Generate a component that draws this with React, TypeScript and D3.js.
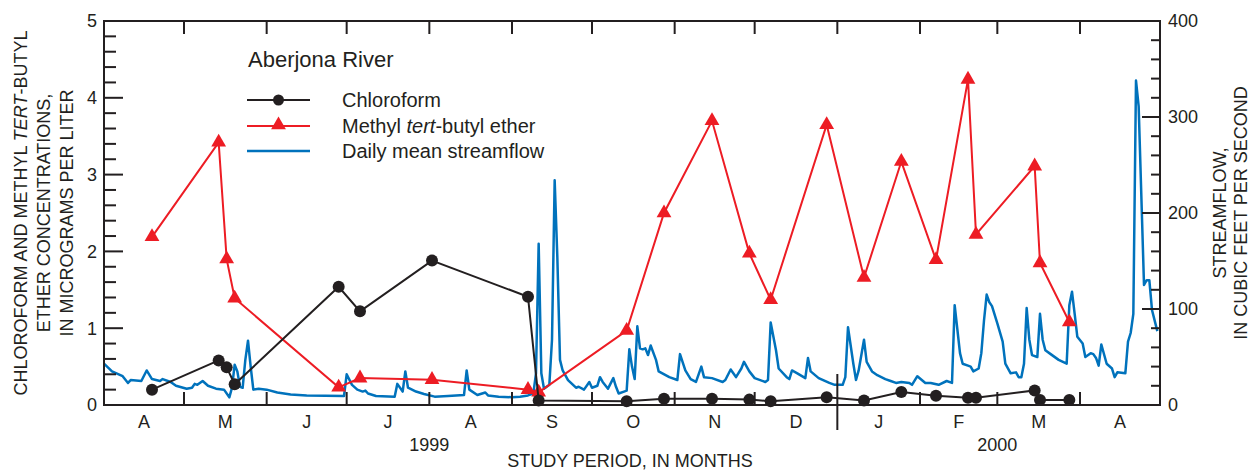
import React from "react";
import * as d3 from "d3";

// ---------- data ----------
const sampleDates = [
  "1999-04-19", "1999-05-14", "1999-05-17", "1999-05-20", "1999-06-28", "1999-07-06",
  "1999-08-02", "1999-09-07", "1999-09-11", "1999-10-14", "1999-10-28", "1999-11-15",
  "1999-11-29", "1999-12-07", "1999-12-28", "2000-01-11", "2000-01-25", "2000-02-07",
  "2000-02-19", "2000-02-22", "2000-03-15", "2000-03-17", "2000-03-28",
];
const chloroform = [
  0.2, 0.58, 0.49, 0.27, 1.54, 1.22, 1.88, 1.41, 0.06, 0.05, 0.08, 0.08,
  0.07, 0.05, 0.1, 0.06, 0.17, 0.12, 0.095, 0.095, 0.19, 0.065, 0.065,
];
const mtbe = [
  2.19, 3.42, 1.9, 1.39, 0.23, 0.35, 0.33, 0.2, 0.165, 0.97, 2.5, 3.7,
  1.975, 1.37, 3.65, 1.66, 3.17, 1.89, 4.24, 2.22, 3.11, 1.85, 1.08,
];

// daily mean streamflow: day of study period (0 = 1999-04-01) and cubic feet per second
const flowDay = [
  0, 3, 7, 9, 10, 14, 16, 18, 21, 22, 25, 27, 31, 33, 34, 35, 37, 39, 42, 45, 47, 48, 49, 50,
  51, 52, 53, 54, 55, 56, 58, 61, 65, 70, 76, 83, 90, 91, 93, 95, 97, 98, 99, 102, 109, 110,
  112, 113, 114, 117, 120, 124, 129, 135, 136, 137, 140, 143, 144, 148, 153, 156, 159, 161,
  162, 163, 164, 165, 167, 168, 169, 170, 171, 172, 174, 177, 178, 180, 182, 183, 185, 186,
  187, 189, 191, 192, 193, 195, 196, 197, 198, 199, 200, 201, 202, 203, 204, 205, 207, 208,
  212, 215, 216, 218, 220, 222, 224, 225, 228, 232, 233, 235, 236, 237, 239, 240, 242, 244,
  248, 249, 250, 252, 253, 256, 257, 258, 260, 263, 264, 265, 268, 272, 274, 277, 278, 279,
  281, 282, 283, 285, 286, 288, 290, 293, 295, 297, 299, 302, 303, 305, 308, 310, 313, 316,
  318, 319, 321, 322, 324, 325, 326, 328, 329, 330, 331, 332, 333, 335, 337, 338, 340, 342,
  343, 344, 345, 346, 347, 348, 350, 351, 352, 353, 355, 358, 361, 362, 363, 364, 365, 367,
  368, 370, 371, 372, 373, 374, 376, 378, 379, 380, 383, 384, 385, 386, 387, 388, 390, 391,
  392, 393, 395,
];
const flowCfs = [
  43, 35, 30, 23, 26, 25, 36, 27, 25, 27, 24, 20, 17, 18, 22, 21, 25, 20, 17, 16, 8, 18, 42, 35,
  19, 18, 47, 67, 40, 16, 17, 16, 13, 11, 10, 9.7, 9.4, 32, 21, 16, 14, 15, 12, 9.4, 8.7, 22,
  14, 35, 18, 14, 11.5, 8.7, 9.4, 10.4, 36, 16, 10.4, 13, 10, 8.7, 8, 8.7, 10, 12,
  33, 168, 33, 17, 21, 68, 234, 154, 47, 36, 26, 18, 19, 16, 24, 18, 20, 29,
  24, 17, 28, 19, 12, 14, 15, 58, 40, 27, 82, 59, 58, 59, 52, 62, 47, 35,
  29, 26, 53, 36, 27, 24, 40, 29, 28, 24, 26, 37, 33, 29, 38, 45, 35, 28,
  24, 26, 86, 57, 38, 29, 27, 36, 33, 28, 49, 35, 28, 23, 21, 21, 29, 81,
  43, 26, 36, 68, 45, 35, 31, 27, 25, 23, 24, 23, 21, 30, 23, 23, 21, 25,
  23, 104, 54, 43, 41, 40, 35, 38, 54, 88, 115, 107, 103, 85, 66, 43, 33, 34,
  29, 29, 43, 101, 68, 52, 50, 95, 68, 57, 53, 47, 43, 104, 118, 95, 71, 64,
  50, 54, 53, 49, 41, 63, 43, 38, 29, 34, 33, 66, 75, 95, 338, 311, 125, 130,
  130, 99, 77,
];

const leftTicks = [0, 1, 2, 3, 4, 5];
const rightTicks = [0, 100, 200, 300, 400];
const yearLabels = ["1999", "2000"];
const yearLabelDates = ["1999-08-01", "2000-03-01"];

// ---------- chart ----------
const W = 1252;
const H = 472;
const M = { left: 104, right: 1160, top: 21, bottom: 405 };
const FONT = "'Liberation Sans', Arial, Helvetica, sans-serif";
const INK = "#231f20";
const RED = "#ed1c24";
const BLUE = "#0072bc";

const parse = d3.timeParse("%Y-%m-%d");
const start = new Date(1999, 3, 1);
const end = new Date(2000, 4, 1);

export default function App() {
  const x = d3.scaleTime().domain([start, end]).range([M.left, M.right]);
  const yL = d3.scaleLinear().domain([0, 5]).range([M.bottom, M.top]);
  const yR = d3.scaleLinear().domain([0, 400]).range([M.bottom, M.top]);

  const samples = sampleDates.map((s, i) => ({
    date: parse(s) as Date,
    cf: chloroform[i],
    mt: mtbe[i],
  }));
  const flow = flowDay.map((d, i) => ({ date: d3.timeDay.offset(start, d), v: flowCfs[i] }));

  const flowLine = d3
    .line<{ date: Date; v: number }>()
    .x((d) => x(d.date))
    .y((d) => yR(d.v));
  const cfLine = d3
    .line<{ date: Date; cf: number }>()
    .x((d) => x(d.date))
    .y((d) => yL(d.cf));
  const mtLine = d3
    .line<{ date: Date; mt: number }>()
    .x((d) => x(d.date))
    .y((d) => yL(d.mt));

  const months = d3.timeMonth.range(start, end);
  const innerBounds = d3.timeMonth.range(d3.timeMonth.offset(start, 1), end);
  const yearBoundary = new Date(2000, 0, 1);

  const leftMinor = d3.range(0, 5.0001, 0.2).filter((v) => Math.abs(v - Math.round(v)) > 1e-6);
  const rightMinor = d3.range(0, 400.001, 20).filter((v) => v % 100 !== 0);

  const tri = d3.symbol().type(d3.symbolTriangle).size(95)() as string;

  const fs = 18;

  return (
    <svg
      width={W}
      height={H}
      style={{ position: "absolute", left: 0, top: 0, background: "#fff" }}
      fontFamily={FONT}
    >
      <rect x={0} y={0} width={W} height={H} fill="#fff" />

      {/* streamflow */}
      <path d={flowLine(flow) as string} fill="none" stroke={BLUE} strokeWidth={2.5} strokeLinejoin="round" />

      {/* MTBE */}
      <path d={mtLine(samples) as string} fill="none" stroke={RED} strokeWidth={2} />
      {samples.map((d, i) => (
        <path key={"t" + i} d={tri} transform={`translate(${x(d.date)},${yL(d.mt)})`} fill={RED} />
      ))}

      {/* Chloroform */}
      <path d={cfLine(samples) as string} fill="none" stroke={INK} strokeWidth={2} />
      {samples.map((d, i) => (
        <circle key={"c" + i} cx={x(d.date)} cy={yL(d.cf)} r={6} fill={INK} />
      ))}

      {/* frame */}
      <rect
        x={M.left}
        y={M.top}
        width={M.right - M.left}
        height={M.bottom - M.top}
        fill="none"
        stroke={INK}
        strokeWidth={2}
      />

      {/* left axis ticks */}
      {leftTicks.map((v) => (
        <g key={"lt" + v}>
          <line x1={M.left} x2={M.left + 19} y1={yL(v)} y2={yL(v)} stroke={INK} strokeWidth={2} />
          <text x={M.left - 7} y={yL(v)} dy="0.36em" textAnchor="end" fontSize={fs} fill={INK}>
            {v}
          </text>
        </g>
      ))}
      {leftMinor.map((v, i) => (
        <line key={"lm" + i} x1={M.left} x2={M.left + 12} y1={yL(v)} y2={yL(v)} stroke={INK} strokeWidth={2} />
      ))}

      {/* right axis ticks */}
      {rightTicks.map((v) => (
        <g key={"rt" + v}>
          <line x1={M.right - 18} x2={M.right + 1} y1={yR(v)} y2={yR(v)} stroke={INK} strokeWidth={2} />
          <text x={M.right + 8} y={yR(v)} dy="0.36em" textAnchor="start" fontSize={fs} fill={INK}>
            {v}
          </text>
        </g>
      ))}
      {rightMinor.map((v, i) => (
        <line key={"rm" + i} x1={M.right - 9} x2={M.right} y1={yR(v)} y2={yR(v)} stroke={INK} strokeWidth={2} />
      ))}

      {/* month ticks (bottom and top) */}
      {innerBounds.map((m, i) => {
        const xx = x(m);
        const isYear = +m === +yearBoundary;
        return (
          <g key={"mt" + i}>
            {isYear ? (
              <line x1={xx} x2={xx} y1={M.bottom - 31} y2={M.bottom + 25} stroke={INK} strokeWidth={2} />
            ) : (
              <line x1={xx} x2={xx} y1={M.bottom} y2={M.bottom - 13} stroke={INK} strokeWidth={2} />
            )}
            <line x1={xx} x2={xx} y1={M.top} y2={M.top + 13} stroke={INK} strokeWidth={2} />
          </g>
        );
      })}

      {/* month labels */}
      {months.map((m, i) => {
        const next = d3.timeMonth.offset(m, 1);
        const cx = (x(m) + x(next)) / 2;
        return (
          <text key={"ml" + i} x={cx} y={428} textAnchor="middle" fontSize={fs} fill={INK}>
            {d3.timeFormat("%B")(m).charAt(0)}
          </text>
        );
      })}

      {/* year labels */}
      {yearLabels.map((yl, i) => (
        <text key={"yl" + i} x={x(parse(yearLabelDates[i]) as Date)} y={451} textAnchor="middle" fontSize={fs} fill={INK}>
          {yl}
        </text>
      ))}

      <text x={(M.left + M.right) / 2 - 2} y={467} textAnchor="middle" fontSize={fs} fill={INK}>
        STUDY PERIOD, IN MONTHS
      </text>

      {/* left axis title */}
      <g transform={`translate(0,${(M.top + M.bottom) / 2}) rotate(-90)`} fontSize={fs} fill={INK} textAnchor="middle">
        <text x={0} y={27}>
          CHLOROFORM AND METHYL <tspan fontStyle="italic">TERT</tspan>-BUTYL
        </text>
        <text x={0} y={50}>ETHER CONCENTRATIONS,</text>
        <text x={0} y={73}>IN MICROGRAMS PER LITER</text>
      </g>

      {/* right axis title */}
      <g transform={`translate(0,${(M.top + M.bottom) / 2}) rotate(-90)`} fontSize={fs} fill={INK} textAnchor="middle">
        <text x={0} y={1226}>STREAMFLOW,</text>
        <text x={0} y={1247}>IN CUBIC FEET PER SECOND</text>
      </g>

      {/* legend */}
      <g fill={INK}>
        <text x={248} y={67} fontSize={22}>
          Aberjona River
        </text>
        <line x1={247} x2={310} y1={100} y2={100} stroke={INK} strokeWidth={2} />
        <circle cx={278.5} cy={100} r={5.5} fill={INK} />
        <text x={342} y={107} fontSize={20}>
          Chloroform
        </text>
        <line x1={247} x2={310} y1={126} y2={126} stroke={RED} strokeWidth={2} />
        <path d={tri} transform="translate(278.5,125)" fill={RED} />
        <text x={342} y={132.5} fontSize={20}>
          Methyl <tspan fontStyle="italic">tert</tspan>-butyl ether
        </text>
        <line x1={247} x2={310} y1={151} y2={151} stroke={BLUE} strokeWidth={2.5} />
        <text x={342} y={157.5} fontSize={20}>
          Daily mean streamflow
        </text>
      </g>
    </svg>
  );
}
